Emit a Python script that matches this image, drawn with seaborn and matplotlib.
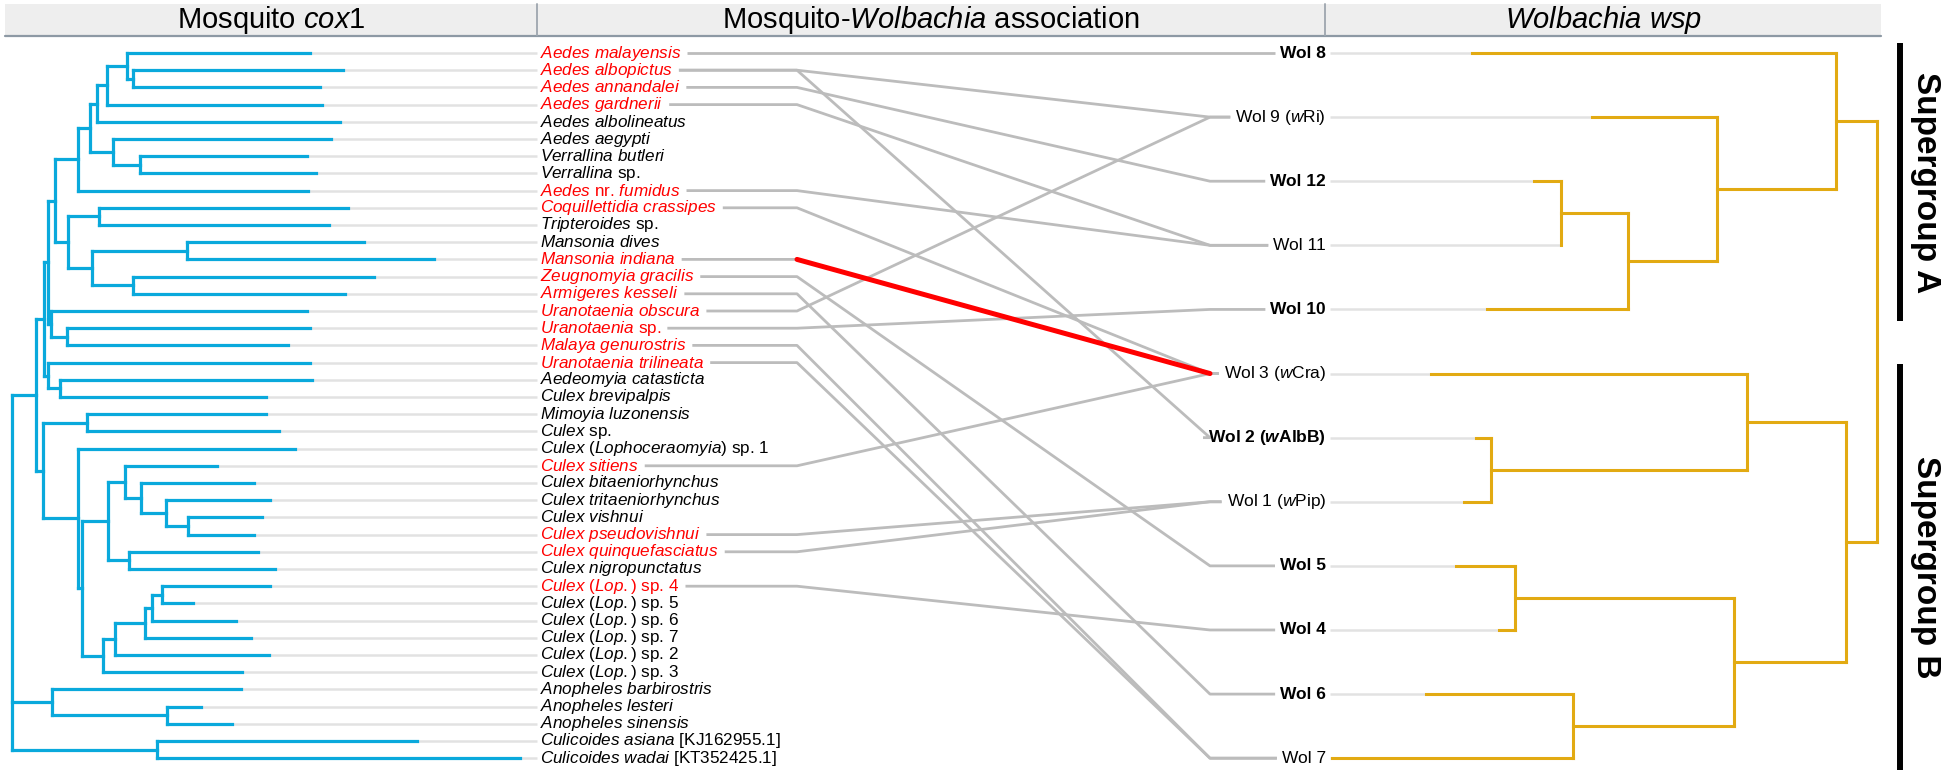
import matplotlib
matplotlib.use("Agg")
import matplotlib.pyplot as plt
from matplotlib.patches import Rectangle
import pandas as pd
import seaborn as sns

# ---------------- data ----------------
COX1_TAXA = [
    "Aedes malayensis", "Aedes albopictus", "Aedes annandalei", "Aedes gardnerii",
    "Aedes albolineatus", "Aedes aegypti", "Verrallina butleri", "Verrallina sp.",
    "Aedes nr. fumidus", "Coquillettidia crassipes", "Tripteroides sp.", "Mansonia dives",
    "Mansonia indiana", "Zeugnomyia gracilis", "Armigeres kesseli", "Uranotaenia obscura",
    "Uranotaenia sp.", "Malaya genurostris", "Uranotaenia trilineata", "Aedeomyia catasticta",
    "Culex brevipalpis", "Mimoyia luzonensis", "Culex sp.", "Culex (Lophoceraomyia) sp. 1",
    "Culex sitiens", "Culex bitaeniorhynchus", "Culex tritaeniorhynchus", "Culex vishnui",
    "Culex pseudovishnui", "Culex quinquefasciatus", "Culex nigropunctatus", "Culex (Lop.) sp. 4",
    "Culex (Lop.) sp. 5", "Culex (Lop.) sp. 6", "Culex (Lop.) sp. 7", "Culex (Lop.) sp. 2",
    "Culex (Lop.) sp. 3", "Anopheles barbirostris", "Anopheles lesteri", "Anopheles sinensis",
    "Culicoides asiana [KJ162955.1]", "Culicoides wadai [KT352425.1]",
]
# tip / node depth of the cox1 tree (drawing units, root at left)
COX1_TIP_X = [310, 343, 320, 322, 340, 331, 307, 316, 308, 348, 329, 364, 434, 374,
              345, 307, 310, 288, 310, 312, 266, 266, 279, 295, 217, 254, 270, 262,
              254, 258, 275, 270, 193, 236, 251, 269, 242, 241, 201, 232, 417, 520]
# clades as (first, last) row of a contiguous block of tips
COX1_CLADES = [(2, 3), (1, 3), (1, 4), (1, 5), (7, 8), (6, 8), (1, 8), (1, 9),
               (10, 11), (12, 13), (14, 15), (12, 15), (10, 15), (1, 15), (17, 18), (16, 18),
               (1, 18), (20, 21), (19, 21), (1, 21), (22, 23), (28, 29), (27, 29), (26, 29),
               (25, 29), (30, 31), (25, 31), (32, 33), (32, 34), (32, 35), (32, 36), (32, 37),
               (25, 37), (24, 37), (22, 37), (1, 37), (39, 40), (38, 40), (41, 42), (1, 42)]
COX1_CLADE_X = [133, 127, 107, 97, 140, 113, 90, 78,
                99, 187, 133, 92, 68, 55, 67, 51,
                48, 60, 48, 44, 87, 188, 166, 141,
                125, 129, 108, 162, 152, 145, 115, 103,
                82, 78, 43, 36, 167, 52, 157, 12]

WSP_TAXA = ["Wol 8", "Wol 9", "Wol 12", "Wol 11", "Wol 10", "Wol 3",
            "Wol 2", "Wol 1", "Wol 5", "Wol 4", "Wol 6", "Wol 7"]
WSP_STRAIN = ["", "Ri", "", "", "", "Cra", "AlbB", "Pip", "", "", "", ""]
WSP_BOLD = [1, 0, 1, 0, 1, 0, 1, 0, 1, 1, 1, 0]
WSP_TIP_X = [1472, 1592, 1534, 1561, 1487, 1431, 1476, 1464, 1456, 1499, 1426, 1332]
WSP_CLADES = [(3, 4), (3, 5), (2, 5), (1, 5), (7, 8), (6, 8),
              (9, 10), (11, 12), (9, 12), (6, 12), (1, 12)]
WSP_CLADE_X = [1561, 1628, 1717, 1836, 1491, 1747, 1515, 1573, 1734, 1846, 1877]

SUPERGROUPS = ["Supergroup A", "Supergroup B"]
SUPERGROUP_FIRST = [1, 6]
SUPERGROUP_LAST = [5, 12]

LINK_HOST = ["Aedes malayensis", "Aedes albopictus", "Aedes albopictus", "Aedes annandalei",
             "Aedes gardnerii", "Aedes nr. fumidus", "Coquillettidia crassipes",
             "Mansonia indiana", "Zeugnomyia gracilis", "Armigeres kesseli",
             "Uranotaenia obscura", "Uranotaenia sp.", "Malaya genurostris",
             "Uranotaenia trilineata", "Culex sitiens", "Culex pseudovishnui",
             "Culex quinquefasciatus", "Culex (Lop.) sp. 4"]
LINK_WOL = ["Wol 8", "Wol 9", "Wol 2", "Wol 12", "Wol 11", "Wol 11", "Wol 3",
            "Wol 3", "Wol 5", "Wol 6", "Wol 9", "Wol 10", "Wol 7",
            "Wol 7", "Wol 3", "Wol 1", "Wol 1", "Wol 4"]
HIGHLIGHT = ("Mansonia indiana", "Wol 3")

# ---------------- styling ----------------
BLUE = "#0aa9dc"
ORANGE = "#e2aa12"
TIPGRAY = "#e2e2e2"
LINKGRAY = "#bcbcbc"

sns.set_theme(style="white")
plt.rcParams["font.family"] = ["Liberation Sans", "DejaVu Sans"]
plt.rcParams["text.color"] = "black"
plt.rcParams["mathtext.fontset"] = "custom"
plt.rcParams["mathtext.rm"] = "Liberation Sans"
plt.rcParams["mathtext.it"] = "Liberation Sans:italic"
plt.rcParams["mathtext.bf"] = "Liberation Sans:bold"
plt.rcParams["mathtext.bfit"] = "Liberation Sans:italic:bold"

W, H = 1948, 773
ROW_PX, TOP_PX = 17.2, 53
HOST_LABEL_X, WOL_LABEL_X = 540, 1326
BEND_L, BEND_R = 797, 1210


def fmt_name(name):
    # genus/species in italics, "sp.", "nr.", numbers and accessions upright
    groups = []
    for tok in name.split(" "):
        it = not (tok in ("sp.", "nr.") or tok.isdigit() or tok.startswith("["))
        if groups and groups[-1][0] == it:
            groups[-1][1].append(tok)
        else:
            groups.append((it, [tok]))
    parts = []
    for it, toks in groups:
        parts.append(r"$\mathit{" + r"\ ".join(toks) + "}$" if it else " ".join(toks))
    return " ".join(parts)


def tree_segments(tip_x, tip_y, clades, clade_x):
    pos = {(i + 1, i + 1): (tip_x[i], tip_y[i]) for i in range(len(tip_x))}
    segs = []
    order = sorted(range(len(clades)), key=lambda k: clades[k][1] - clades[k][0])
    for k in order:
        a, b = clades[k]
        x = clade_x[k]
        kids, p = [], a
        while p <= b:
            cands = [s for s in pos if s[0] == p and s[1] <= b and s != (a, b)]
            best = max(cands, key=lambda s: s[1])
            kids.append(best)
            p = best[1] + 1
        ys = [pos[s][1] for s in kids]
        for s in kids:
            segs.append([(x, pos[s][1]), (pos[s][0], pos[s][1])])
        segs.append([(x, ys[0]), (x, ys[-1])])
        pos[(a, b)] = (x, (ys[0] + ys[-1]) / 2)
    return segs


def segs_to_df(segs):
    rows = []
    for i, seg in enumerate(segs):
        for x, y in seg:
            rows.append({"seg": i, "x": x, "y": y})
    return pd.DataFrame(rows)


def draw_segs(ax, segs, color, lw, cap="projecting", z=2):
    sns.lineplot(data=segs_to_df(segs), x="x", y="y", units="seg", estimator=None,
                 sort=False, color=color, lw=lw, solid_capstyle=cap, ax=ax,
                 legend=False, zorder=z)


fig = plt.figure(figsize=(W / 100, H / 100), dpi=100)
ax = fig.add_axes([0, 0, 1, 1])
ax.set_xlim(0, W)
ax.set_ylim((H - TOP_PX) / ROW_PX, -TOP_PX / ROW_PX)

host_y = list(range(len(COX1_TAXA)))
wol_step = (len(COX1_TAXA) - 1) / (len(WSP_TAXA) - 1)
wol_y = [j * wol_step for j in range(len(WSP_TAXA))]

# tip extensions to labels
draw_segs(ax, [[(tx, y), (HOST_LABEL_X - 3, y)] for tx, y in zip(COX1_TIP_X, host_y)],
          TIPGRAY, 1.8, cap="butt", z=1)
draw_segs(ax, [[(WOL_LABEL_X + 4, y), (tx, y)] for tx, y in zip(WSP_TIP_X, wol_y)],
          TIPGRAY, 1.8, cap="butt", z=1)

# trees
draw_segs(ax, tree_segments(COX1_TIP_X, host_y, COX1_CLADES, COX1_CLADE_X), BLUE, 2.3)
draw_segs(ax, tree_segments(WSP_TIP_X, wol_y, WSP_CLADES, WSP_CLADE_X), ORANGE, 2.2)

# labels
infected = set(LINK_HOST)
host_txt = {}
for name, y in zip(COX1_TAXA, host_y):
    host_txt[name] = ax.text(HOST_LABEL_X, y, fmt_name(name), fontsize=12.3, va="center",
                             ha="left", color="#ff0000" if name in infected else "black",
                             zorder=5)
wol_txt = {}
for name, strain, bold, y in zip(WSP_TAXA, WSP_STRAIN, WSP_BOLD, wol_y):
    if strain:
        w = r"$\mathbfit{w}$" if bold else r"$\mathit{w}$"
        label = f"{name} ({w}{strain})"
    else:
        label = name
    wol_txt[name] = ax.text(WOL_LABEL_X, y, label, fontsize=12.5, va="center", ha="right",
                            fontweight="bold" if bold else "normal", color="black",
                            zorder=5)

# association links, routed from the text ends
fig.canvas.draw()
rend = fig.canvas.get_renderer()
inv = ax.transData.inverted()
links, red = [], []
for h, w in zip(LINK_HOST, LINK_WOL):
    hb = host_txt[h].get_window_extent(rend)
    wb = wol_txt[w].get_window_extent(rend)
    x0 = inv.transform((hb.x1, hb.y0))[0] + 6
    x3 = inv.transform((wb.x0, wb.y0))[0] - 5
    yh, yw = host_y[COX1_TAXA.index(h)], wol_y[WSP_TAXA.index(w)]
    links.append([(x0, yh), (BEND_L, yh), (BEND_R, yw), (x3, yw)])
    if (h, w) == HIGHLIGHT:
        red.append([(BEND_L, yh), (BEND_R, yw)])
draw_segs(ax, links, LINKGRAY, 2.0, cap="butt", z=3)
draw_segs(ax, red, "#ff0000", 3.6, cap="round", z=4)

# supergroup bars
for label, a, b in zip(SUPERGROUPS, SUPERGROUP_FIRST, SUPERGROUP_LAST):
    y0, y1 = wol_y[a - 1] - 0.15 * wol_step, wol_y[b - 1] + 0.18 * wol_step
    ax.plot([1900, 1900], [y0, y1], color="black", lw=4.3, solid_capstyle="butt")
    ax.text(1926, (y0 + y1) / 2, label, rotation=270, fontsize=24, fontweight="bold",
            ha="center", va="center", color="black")

ax.set_xlabel("")
ax.set_ylabel("")
ax.axis("off")

# header band
deco = fig.add_axes([0, 0, 1, 1], facecolor="none")
deco.set_xlim(0, W)
deco.set_ylim(H, 0)
deco.axis("off")
deco.add_patch(Rectangle((5, 4), 1876, 31, facecolor="#eeeeee", edgecolor="none"))
deco.plot([5, 1881], [35.5, 35.5], color="#8d99a4", lw=1.6)
for xd in (537, 1325):
    deco.plot([xd, xd], [4, 35], color="#a3abb3", lw=1.4)
deco.text(271, 20, r"Mosquito $\mathit{cox1}$", fontsize=21, ha="center", va="center",
          color="black")
deco.text(931, 20, r"Mosquito-$\mathit{Wolbachia}$ association", fontsize=21,
          ha="center", va="center", color="black")
deco.text(1603, 20, r"$\mathit{Wolbachia\ wsp}$", fontsize=21, ha="center", va="center",
          color="black")

fig.savefig("out.png", dpi=100)
